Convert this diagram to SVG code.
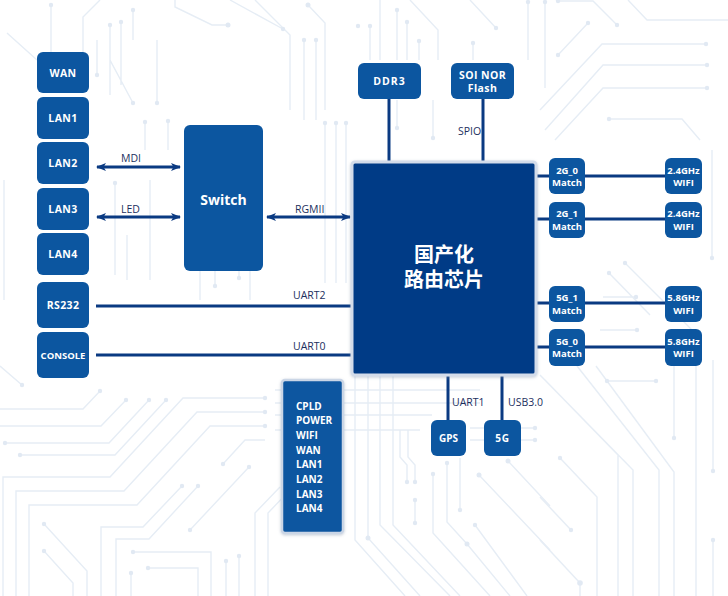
<svg xmlns="http://www.w3.org/2000/svg" width="728" height="596" viewBox="0 0 728 596">
<style>
.bg{fill:none;stroke:#e6edf5;stroke-width:1.4}
.dot{fill:#e1e9f3}
.box{fill:#0c56a0}
.bt{font-family:"Open Sans","Liberation Sans",sans-serif;font-weight:700;font-size:10px;fill:#ffffff;text-anchor:middle;dominant-baseline:central}
.sm{font-size:9.5px}
.big{font-size:10.5px;letter-spacing:0.4px}
.lbl{font-family:"Open Sans","Liberation Sans",sans-serif;font-size:10.5px;fill:#1c2f5e}
.ln{stroke:#0a3a82;stroke-width:3;fill:none}
.cjk{font-family:"Noto Sans CJK SC","Noto Sans",sans-serif;font-weight:700;font-size:20px;fill:#ffffff;text-anchor:middle}
</style>
<defs>
<marker id="ah" viewBox="0 0 10 8" refX="9" refY="4" markerWidth="10" markerHeight="8" markerUnits="userSpaceOnUse" orient="auto-start-reverse">
<path d="M0,0 L10,4 L0,8 L2.5,4 z" fill="#0a3a82"/>
</marker>
<filter id="sh" x="-10%" y="-10%" width="120%" height="120%">
<feDropShadow dx="0" dy="1" stdDeviation="1.5" flood-color="#7f8fa6" flood-opacity="0.45"/>
</filter>
</defs>
<rect width="728" height="596" fill="#ffffff"/>
<g id="background">
<path class="bg" d="M51,5V52 M7,33L37,60 M100,0L83,17V52 M110,25V95 M121,22V85 M133,10V40 M110,40V60L133,103 M157,40V103 M175,0V7L212,25H228 M230,0L283,29 M308,5L325,23V110 M304,40V120 M316,40V120 M255,0L290,35V110 M370,26V60 M380,0V60 M397,10V60 M407,22V60 M419,41V60 M410,0L438,30V60 M470,0L496,28 M473,43V60 M528,2V60 M545,2V88 M558,1H593L617,25 M558,55L588,23 M628,0L647,20H728 M540,110L602,44H706 M545,130L603,65H707 M555,140L603,88H707 M609,119H682L700,140 M712,150V258 M397,100V128 M433,100V138 M97,40V75 M145,122V150 M168,121V150 M115,183V275 M127,235V280 M150,180V280 M200,271V300 M215,271V286 M239,271V278 M250,271V300 M325,123V283 M336,123V283 M346,123V283 M4,180V300 M0,366L22,385"/>
<path class="bg" d="M545,380L618,455V596 M540,375L633,470V596 M577,366L659,470V596 M596,366L674,472V596 M607,381H656 M674,366V438 M696,366V596 M713,360V471 M713,540V596 M560,458L597,497V596 M540,497L571,530 M540,540L580,583V596 M625,263L700,338 M609,273L650,315 M603,297H636 M600,330H637"/>
<path class="bg" d="M355,376V540L405,596 M368,376V538L420,596 M380,376V525L450,596 M393,376V525L460,596 M400,430V457L407,465V482 M408,430V457L415,465V482 M415,500V523 M433,474V533L490,596 M447,463V522L467,544L510,596 M460,458V510 M479,475L550,550 M475,525L527,596 M508,461L550,506 M275,390H480 M275,403H480 M275,415H432 M275,430H420 M470,428H535 M470,440H535"/>
<path class="bg" d="M0,409H83L100,391 M0,426H101L126,400 M5,443H109L149,400 M20,455H115L166,400 M3,596V477H110L183,398H265 M16,596V491H124L197,412H265 M29,596V505H137L210,426H265 M101,596V527H143L182,486 M116,596V539H149L198,486 M133,552H211V596 M148,568H198V596 M131,573V596 M44,524L87,571V596 M44,551L73,583V596 M190,530L249,467 M223,464L245,440H265 M226,561V596 M239,556V596 M255,596V513L280,487 M268,596V513L290,490"/>
<g class="dot">
<circle cx="51" cy="5" r="2.2"/><circle cx="110" cy="25" r="2.2"/><circle cx="121" cy="22" r="2.2"/><circle cx="133" cy="10" r="2.2"/><circle cx="133" cy="103" r="2.2"/><circle cx="157" cy="103" r="2.2"/><circle cx="228" cy="25" r="2.5"/><circle cx="283" cy="29" r="2.2"/><circle cx="308" cy="5" r="2.5"/><circle cx="304" cy="40" r="2.2"/><circle cx="316" cy="40" r="2.2"/><circle cx="358" cy="26" r="2.2"/>
<circle cx="370" cy="26" r="2.2"/><circle cx="397" cy="10" r="2.2"/><circle cx="407" cy="22" r="2.2"/><circle cx="419" cy="41" r="2.2"/><circle cx="496" cy="28" r="2.2"/><circle cx="473" cy="43" r="2.2"/><circle cx="528" cy="2" r="2.2"/><circle cx="545" cy="2" r="2.2"/><circle cx="558" cy="1" r="2.2"/><circle cx="617" cy="25" r="2.2"/><circle cx="558" cy="55" r="2.2"/><circle cx="588" cy="23" r="2.2"/><circle cx="706" cy="44" r="2.2"/><circle cx="707" cy="65" r="2.2"/><circle cx="707" cy="88" r="2.2"/><circle cx="609" cy="119" r="2.2"/><circle cx="712" cy="258" r="2.2"/><circle cx="397" cy="128" r="2.2"/><circle cx="433" cy="138" r="2.2"/><circle cx="97" cy="75" r="2.2"/><circle cx="145" cy="122" r="2.2"/><circle cx="168" cy="121" r="2.2"/><circle cx="115" cy="183" r="2.2"/><circle cx="215" cy="286" r="2.2"/><circle cx="239" cy="278" r="2.2"/><circle cx="325" cy="123" r="2.2"/><circle cx="336" cy="123" r="2.2"/><circle cx="346" cy="123" r="2.2"/><circle cx="22" cy="385" r="2.2"/>
<circle cx="607" cy="381" r="2.2"/><circle cx="656" cy="381" r="2.2"/><circle cx="674" cy="438" r="2.2"/><circle cx="713" cy="471" r="2.2"/><circle cx="713" cy="540" r="2.2"/><circle cx="560" cy="458" r="2.2"/><circle cx="571" cy="530" r="2.2"/><circle cx="580" cy="583" r="2.8"/><circle cx="625" cy="263" r="2.2"/><circle cx="609" cy="273" r="2.2"/><circle cx="636" cy="297" r="2.2"/><circle cx="637" cy="330" r="2.2"/>
<circle cx="368" cy="538" r="2.5"/><circle cx="407" cy="482" r="2.2"/><circle cx="415" cy="482" r="2.2"/><circle cx="415" cy="500" r="2.2"/><circle cx="415" cy="523" r="2.2"/><circle cx="433" cy="474" r="2.2"/><circle cx="447" cy="463" r="2.2"/><circle cx="467" cy="544" r="2.5"/><circle cx="460" cy="510" r="2.2"/><circle cx="479" cy="475" r="2.5"/><circle cx="475" cy="525" r="2.2"/><circle cx="508" cy="461" r="2.5"/><circle cx="535" cy="428" r="2.2"/><circle cx="535" cy="440" r="2.2"/>
<circle cx="100" cy="391" r="2.2"/><circle cx="126" cy="400" r="2.2"/><circle cx="5" cy="443" r="2.2"/><circle cx="149" cy="400" r="2.2"/><circle cx="20" cy="455" r="2.2"/><circle cx="166" cy="400" r="2.2"/><circle cx="265" cy="398" r="2.2"/><circle cx="265" cy="412" r="2.2"/><circle cx="265" cy="426" r="2.2"/><circle cx="182" cy="486" r="2.2"/><circle cx="198" cy="486" r="2.2"/><circle cx="133" cy="552" r="2.2"/><circle cx="148" cy="568" r="2.2"/><circle cx="131" cy="573" r="2.2"/><circle cx="44" cy="524" r="2.2"/><circle cx="44" cy="551" r="2.2"/><circle cx="190" cy="530" r="2.2"/><circle cx="249" cy="467" r="2.2"/><circle cx="223" cy="464" r="2.2"/><circle cx="226" cy="561" r="2.2"/><circle cx="239" cy="556" r="2.2"/>
</g>
</g>
<g id="connectors">
<line class="ln" x1="97" y1="167" x2="180" y2="167" marker-start="url(#ah)" marker-end="url(#ah)"/>
<line class="ln" x1="97" y1="217" x2="180" y2="217" marker-start="url(#ah)" marker-end="url(#ah)"/>
<line class="ln" x1="267" y1="217" x2="350" y2="217" marker-start="url(#ah)" marker-end="url(#ah)"/>
<line class="ln" x1="96" y1="306" x2="352" y2="306"/>
<line class="ln" x1="96" y1="355" x2="352" y2="355"/>
<line class="ln" x1="389" y1="99" x2="389" y2="162"/>
<line class="ln" x1="483" y1="99" x2="483" y2="162"/>
<line class="ln" x1="536" y1="176" x2="665" y2="176"/>
<line class="ln" x1="536" y1="219" x2="665" y2="219"/>
<line class="ln" x1="536" y1="303" x2="665" y2="303"/>
<line class="ln" x1="536" y1="347" x2="665" y2="347"/>
<line class="ln" x1="448" y1="375" x2="448" y2="420"/>
<line class="ln" x1="502" y1="375" x2="502" y2="420"/>
<text class="lbl" x="121" y="162">MDI</text>
<text class="lbl" x="121" y="213">LED</text>
<text class="lbl" x="295" y="213">RGMII</text>
<text class="lbl" x="293" y="299">UART2</text>
<text class="lbl" x="293" y="350">UART0</text>
<text class="lbl" x="458" y="135">SPIO</text>
<text class="lbl" x="452" y="406">UART1</text>
<text class="lbl" x="508" y="406">USB3.0</text>
</g>
<g id="wan"><rect class="box" x="37" y="52" width="52" height="41" rx="6"/><text class="bt big" x="63" y="72.5">WAN</text></g>
<g id="lan1"><rect class="box" x="37" y="97" width="52" height="42" rx="6"/><text class="bt big" x="63" y="118">LAN1</text></g>
<g id="lan2"><rect class="box" x="37" y="142" width="52" height="42" rx="6"/><text class="bt big" x="63" y="163">LAN2</text></g>
<g id="lan3"><rect class="box" x="37" y="188" width="52" height="42" rx="6"/><text class="bt big" x="63" y="209">LAN3</text></g>
<g id="lan4"><rect class="box" x="37" y="233" width="52" height="42" rx="6"/><text class="bt big" x="63" y="254">LAN4</text></g>
<g id="rs232"><rect class="box" x="37" y="282" width="52" height="46" rx="6"/><text class="bt big" x="63" y="305">RS232</text></g>
<g id="console"><rect class="box" x="37" y="332" width="52" height="46" rx="6"/><text class="bt" x="63" y="355" style="font-size:9.5px">CONSOLE</text></g>
<g id="switch"><rect class="box" x="184" y="125" width="79" height="146" rx="6"/><text class="bt" x="223.5" y="199" style="font-size:14px">Switch</text></g>
<g id="ddr3"><rect class="box" x="358" y="63" width="63" height="36" rx="6"/><text class="bt big" x="389.5" y="81" style="letter-spacing:1px">DDR3</text></g>
<g id="flash"><rect class="box" x="451" y="63" width="63" height="36" rx="6"/><text class="bt big" x="482.5" y="74.5">SOI NOR</text><text class="bt big" x="482.5" y="88">Flash</text></g>
<g id="chip"><rect x="352" y="162" width="184" height="213" rx="3" fill="#033a86" stroke="#d3dcea" stroke-width="3" filter="url(#sh)"/><text class="cjk" x="444" y="262">国产化</text><text class="cjk" x="444" y="287">路由芯片</text></g>
<g id="m2g0"><rect class="box" x="549" y="158" width="36" height="36" rx="6"/><text class="bt sm" x="567" y="170">2G_0</text><text class="bt sm" x="567" y="182.5">Match</text></g>
<g id="m2g1"><rect class="box" x="549" y="202" width="36" height="36" rx="6"/><text class="bt sm" x="567" y="213.5">2G_1</text><text class="bt sm" x="567" y="226">Match</text></g>
<g id="m5g1"><rect class="box" x="549" y="286" width="36" height="36" rx="6"/><text class="bt sm" x="567" y="297.5">5G_1</text><text class="bt sm" x="567" y="310">Match</text></g>
<g id="m5g0"><rect class="box" x="549" y="329" width="36" height="37" rx="6"/><text class="bt sm" x="567" y="341">5G_0</text><text class="bt sm" x="567" y="353.5">Match</text></g>
<g id="w24a"><rect class="box" x="665" y="158" width="37" height="36" rx="6"/><text class="bt sm" x="683.5" y="170">2.4GHz</text><text class="bt sm" x="683.5" y="182.5">WIFI</text></g>
<g id="w24b"><rect class="box" x="665" y="202" width="37" height="36" rx="6"/><text class="bt sm" x="683.5" y="213.5">2.4GHz</text><text class="bt sm" x="683.5" y="226">WIFI</text></g>
<g id="w58a"><rect class="box" x="665" y="286" width="37" height="36" rx="6"/><text class="bt sm" x="683.5" y="297.5">5.8GHz</text><text class="bt sm" x="683.5" y="310">WIFI</text></g>
<g id="w58b"><rect class="box" x="665" y="329" width="37" height="37" rx="6"/><text class="bt sm" x="683.5" y="341">5.8GHz</text><text class="bt sm" x="683.5" y="353.5">WIFI</text></g>
<g id="gps"><rect class="box" x="431" y="420" width="35" height="36" rx="6"/><text class="bt" x="448.5" y="438">GPS</text></g>
<g id="g5"><rect class="box" x="484" y="420" width="37" height="36" rx="6"/><text class="bt" x="502.5" y="438" style="letter-spacing:0.8px">5G</text></g>
<g id="cpld"><rect class="box" x="282" y="380" width="61" height="153" rx="3" stroke="#cbd6e6" stroke-width="2.5" filter="url(#sh)"/>
<g class="bt" style="text-anchor:start"><text x="296" y="405.5">CPLD</text><text x="296" y="420">POWER</text><text x="296" y="434.7">WIFI</text><text x="296" y="449.5">WAN</text><text x="296" y="463.7">LAN1</text><text x="296" y="478.5">LAN2</text><text x="296" y="493.5">LAN3</text><text x="296" y="507.7">LAN4</text></g></g>
</svg>
